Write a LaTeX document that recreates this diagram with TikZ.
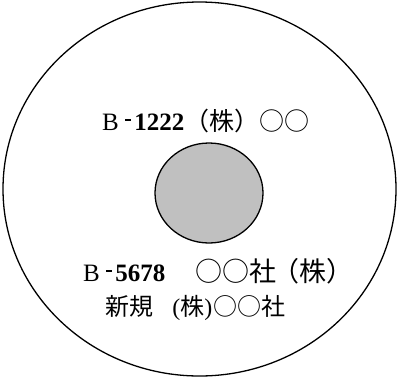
\documentclass[tikz,border=0pt]{standalone}
\usetikzlibrary{shapes.geometric}
\usepackage{fontspec}
\setmainfont{Liberation Serif}
\newfontfamily\cjkfam{Noto Sans CJK JP}
\newcommand{\cjk}[1]{\fontsize{#1}{#1}\cjkfam\selectfont}
\newcommand{\rdash}{\rule[0.36em]{0.22em}{0.1em}}
\begin{document}
\begin{tikzpicture}[x=1pt,y=-1pt,
  lbl/.style={inner sep=0pt,anchor=base west,font=\fontsize{25}{28}\selectfont},
  lbls/.style={inner sep=0pt,anchor=base west,font=\fontsize{24}{27}\selectfont}]
\useasboundingbox (0,0) rectangle (398,378);
\node[draw,line width=1.3pt,ellipse,minimum width=393,minimum height=374,inner sep=0pt] (disc) at (199.5,189) {};
\node[draw,line width=1.3pt,fill={rgb,255:red,192;green,192;blue,192},ellipse,minimum width=108,minimum height=100,inner sep=0pt] (hole) at (209,193) {};
\node[lbl] (t1) at (102,130) {B\hspace{0.25em}\rdash\hspace{0.15em}\textbf{1222}{\cjk{25}（株）○○}};
\node[lbl] (t2) at (83,281) {B\hspace{0.25em}\rdash\hspace{0.15em}\textbf{5678}\hspace{1.2em}{\cjk{27}○○社\hspace{-0.15em}（株）}};
\node[lbls] (t3) at (105,315) {{\cjkfam 新規}\hspace{0.8em}({\cjkfam 株})\hspace{0.05em}{\cjkfam ○○社}};
\end{tikzpicture}
\end{document}
